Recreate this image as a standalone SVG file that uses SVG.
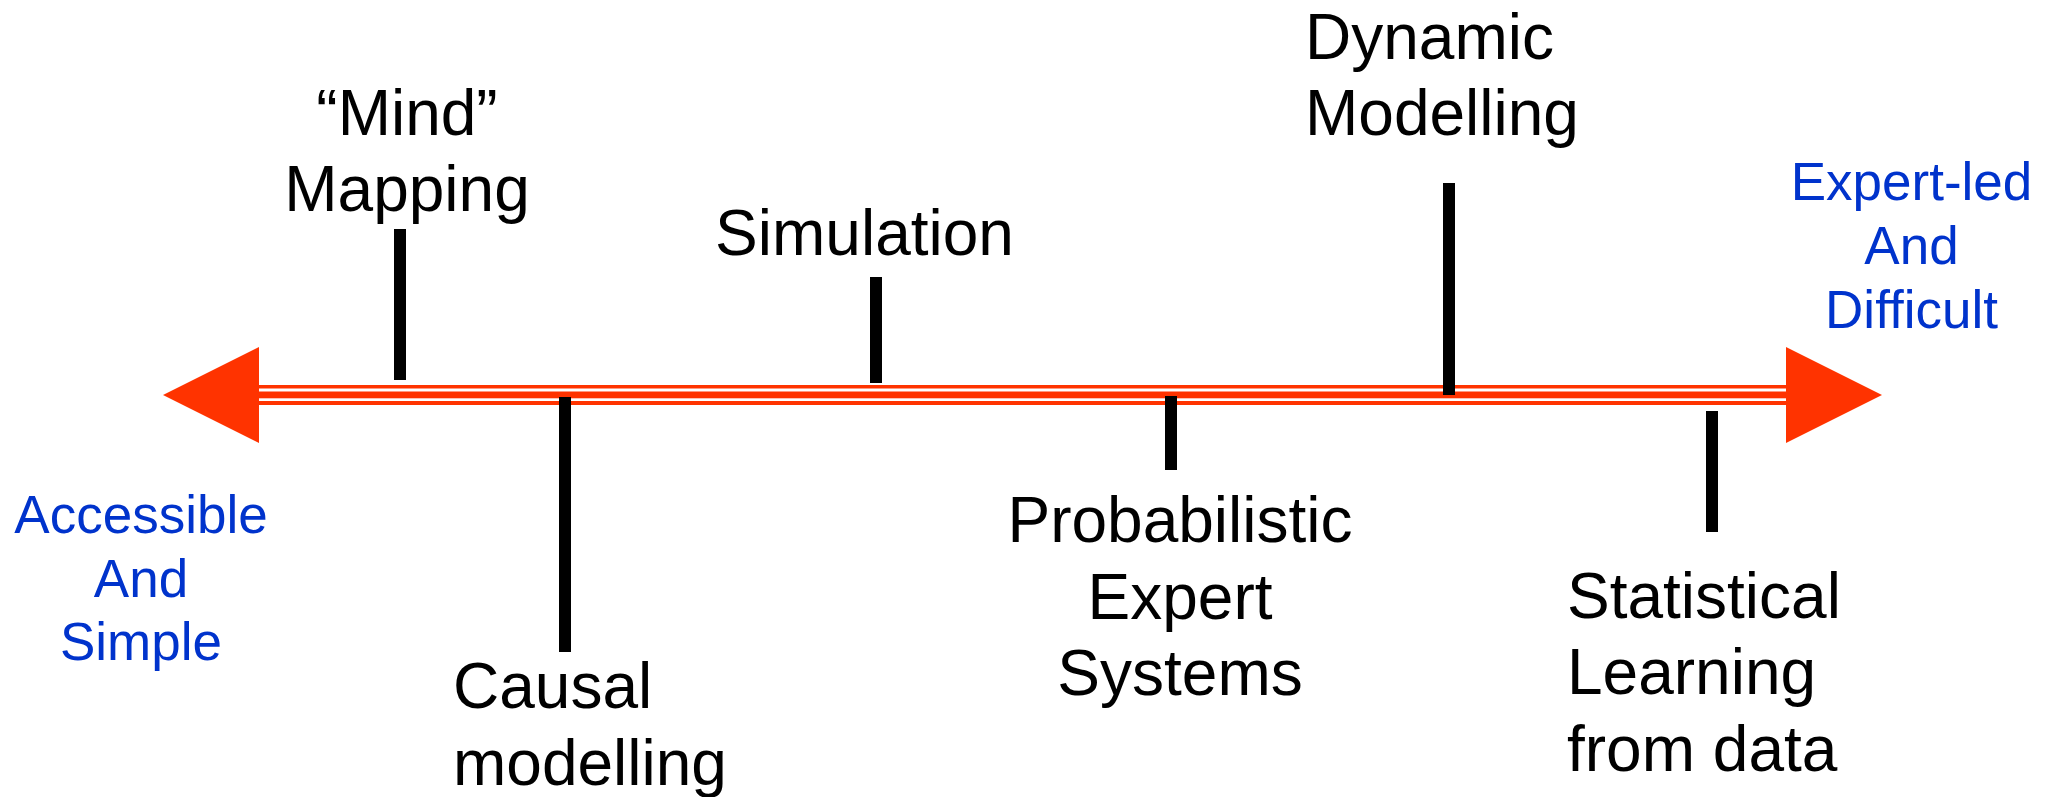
<svg xmlns="http://www.w3.org/2000/svg" width="2054" height="797" viewBox="0 0 2054 797">
<style>
.lbl{font-family:"Liberation Sans",Arial,Helvetica,sans-serif;font-size:64px;fill:#000}
.end{font-family:"Liberation Sans",Arial,Helvetica,sans-serif;font-size:53px;fill:#0033CC}
.c{text-anchor:middle}
.tick{fill:#000}
.red{fill:#FF3300}
</style>
<rect width="2054" height="797" fill="#fff"/>
<g id="connectors">
  <g id="axis">
    <rect class="red" x="258" y="385" width="1530" height="20"/>
    <rect x="258" y="388.5" width="1530" height="3" fill="#fff"/>
    <rect x="258" y="398.3" width="1530" height="2.7" fill="#fff"/>
    <polygon class="red" points="163,395 259,347 259,443"/>
    <polygon class="red" points="1882,395 1786,347 1786,443"/>
  </g>
  <rect class="tick" x="394" y="229" width="12" height="151"/>
  <rect class="tick" x="559" y="397" width="12" height="255"/>
  <rect class="tick" x="870" y="277" width="12" height="106"/>
  <rect class="tick" x="1165" y="396" width="12" height="74"/>
  <rect class="tick" x="1443" y="183" width="12" height="212"/>
  <rect class="tick" x="1706" y="411" width="12" height="121"/>
</g>
<g id="mind-mapping">
  <text class="lbl c" x="407" y="135">“Mind”</text>
  <text class="lbl c" x="407" y="211">Mapping</text>
</g>
<g id="causal-modelling">
  <text class="lbl" x="453" y="708">Causal</text>
  <text class="lbl" x="453" y="785">modelling</text>
</g>
<g id="simulation">
  <text class="lbl c" x="864.5" y="255">Simulation</text>
</g>
<g id="probabilistic-expert-systems">
  <text class="lbl c" x="1180" y="542">Probabilistic</text>
  <text class="lbl c" x="1180" y="619">Expert</text>
  <text class="lbl c" x="1180" y="695">Systems</text>
</g>
<g id="dynamic-modelling">
  <text class="lbl" x="1305" y="59">Dynamic</text>
  <text class="lbl" x="1305" y="135">Modelling</text>
</g>
<g id="statistical-learning">
  <text class="lbl" x="1567" y="618">Statistical</text>
  <text class="lbl" x="1567" y="694">Learning</text>
  <text class="lbl" x="1567" y="771">from data</text>
</g>
<g id="accessible-simple">
  <text class="end c" x="141" y="533">Accessible</text>
  <text class="end c" x="141" y="597">And</text>
  <text class="end c" x="141" y="660">Simple</text>
</g>
<g id="expert-led-difficult">
  <text class="end c" x="1911.5" y="200">Expert-led</text>
  <text class="end c" x="1911.5" y="264">And</text>
  <text class="end c" x="1911.5" y="328">Difficult</text>
</g>
</svg>
